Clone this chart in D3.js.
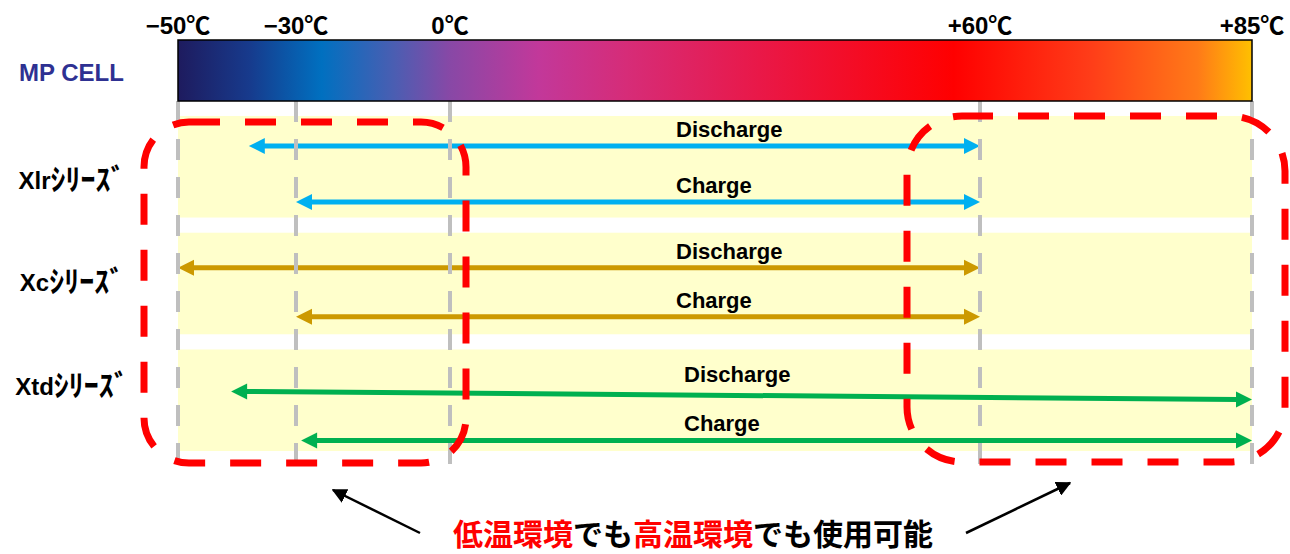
<!DOCTYPE html>
<html>
<head>
<meta charset="utf-8">
<script src="https://cdn.jsdelivr.net/npm/d3@7"></script>
<style>
  html, body { margin: 0; padding: 0; background: #ffffff; }
  svg { display: block; }
</style>
</head>
<body>
<svg id="chart" width="1290" height="554"></svg>
<script>
// ---------- data ----------
const tempTicks = [-50, -30, 0, 60, 85];
const tickLabels = ["−50℃", "−30℃", "0℃", "+60℃", "+85℃"];
const seriesCodes = ["Xlr", "Xc", "Xtd"];
const seriesSuffix = "ｼﾘｰｽﾞ";
const series = seriesCodes.map(c => c + seriesSuffix);
const modes = ["Discharge", "Charge"];
const dischargeMin = [-38, -50, -41];
const dischargeMax = [60, 60, 85];
const chargeMin = [-30, -30, -29];
const chargeMax = [60, 60, 85];
const barTitle = "MP CELL";
const lowRange = [-50, 0];
const highRange = [60, 85];
const noteParts = [
  { text: "低温環境", hi: true },
  { text: "でも", hi: false },
  { text: "高温環境", hi: true },
  { text: "でも使用可能", hi: false }
];
// gradient of the temperature bar
const gradTemps  = [-50, -38, -25, -11, 0, 10, 20, 35, 57, 70, 80, 85];
const gradColors = ["#1e1b5e", "#173a8c", "#0070c0", "#4a5eb2", "#8848a6", "#c2389a",
                    "#d62c78", "#e91848", "#ff0000", "#ff3c18", "#ff7a18", "#ffc000"];

// ---------- styles / layout ----------
const seriesColors = ["#00b0f0", "#cc9900", "#00b050"];
const laneOffsets = [[30, 86], [35, 84], [42, 91]];   // y offset of Discharge/Charge arrows inside a band
const laneTilt = [[0, 0], [0, 0], [8, 0]];
const svg = d3.select("#chart");

const x = d3.scaleLinear().domain(tempTicks).range([178, 296, 450, 980, 1252]);
const y = d3.scaleBand().domain(series).range([116, 451]).paddingInner(0.13);

const bar = { top: 40, bottom: 101 };

// ---------- gradient ----------
const defs = svg.append("defs");
const grad = defs.append("linearGradient").attr("id", "tempGrad")
  .attr("x1", "0%").attr("x2", "100%").attr("y1", "0%").attr("y2", "0%");
const x0 = x(tempTicks[0]), x1 = x(tempTicks[tempTicks.length - 1]);
gradTemps.forEach((t, i) => {
  grad.append("stop").attr("offset", ((x(t) - x0) / (x1 - x0) * 100) + "%")
    .attr("stop-color", gradColors[i]);
});

// ---------- yellow bands ----------
svg.append("g").selectAll("rect").data(series).join("rect")
  .attr("x", x0).attr("width", x1 - x0)
  .attr("y", d => y(d)).attr("height", y.bandwidth())
  .attr("fill", "#ffffcc");

// ---------- arrows ----------
const arrows = [];
series.forEach((s, i) => {
  arrows.push({ s, i, mode: modes[0], lo: dischargeMin[i], hi: dischargeMax[i],
    y1: y(s) + laneOffsets[i][0], y2: y(s) + laneOffsets[i][0] + laneTilt[i][0] });
  arrows.push({ s, i, mode: modes[1], lo: chargeMin[i], hi: chargeMax[i],
    y1: y(s) + laneOffsets[i][1], y2: y(s) + laneOffsets[i][1] + laneTilt[i][1] });
});
const headL = 16, headW = 8;
const ag = svg.append("g");
arrows.forEach(a => {
  const xa = x(a.lo), xb = x(a.hi);
  const col = seriesColors[a.i];
  ag.append("line")
    .attr("x1", xa + headL - 2).attr("y1", a.y1)
    .attr("x2", xb - headL + 2).attr("y2", a.y2)
    .attr("stroke", col).attr("stroke-width", 5);
  ag.append("path")
    .attr("d", `M${xa},${a.y1} L${xa + headL},${a.y1 - headW} L${xa + headL},${a.y1 + headW} Z`)
    .attr("fill", col);
  ag.append("path")
    .attr("d", `M${xb},${a.y2} L${xb - headL},${a.y2 - headW} L${xb - headL},${a.y2 + headW} Z`)
    .attr("fill", col);
});

// ---------- gray dashed verticals ----------
svg.append("g").selectAll("line").data(tempTicks).join("line")
  .attr("x1", d => x(d)).attr("x2", d => x(d))
  .attr("y1", bar.bottom).attr("y2", 465)
  .attr("stroke", "#bfbfbf").attr("stroke-width", 4)
  .attr("stroke-dasharray", "21,17");

// ---------- temperature bar ----------
svg.append("rect")
  .attr("x", x0).attr("y", bar.top).attr("width", x1 - x0).attr("height", bar.bottom - bar.top)
  .attr("fill", "url(#tempGrad)").attr("stroke", "#000").attr("stroke-width", 1.5);

svg.append("g").selectAll("text").data(tempTicks).join("text")
  .attr("x", d => x(d)).attr("y", 34)
  .attr("text-anchor", "middle")
  .attr("font-family", "'Liberation Sans', 'Noto Sans CJK JP', sans-serif")
  .attr("font-weight", "bold").attr("font-size", 24).attr("fill", "#000")
  .text((d, i) => tickLabels[i]);

svg.append("text")
  .attr("x", 19).attr("y", 81)
  .attr("font-family", "'Liberation Sans', sans-serif")
  .attr("font-weight", "bold").attr("font-size", 24).attr("fill", "#2e3192")
  .text(barTitle);

// ---------- red dashed highlight boxes ----------
const boxes = [
  { r: lowRange, left: -34, right: 16, top: 122, bottom: 463, rx: 45 },
  { r: highRange, left: -73, right: 33, top: 116, bottom: 462, rx: 55 }
];
svg.append("g").selectAll("rect").data(boxes).join("rect")
  .attr("x", d => x(d.r[0]) + d.left)
  .attr("width", d => x(d.r[1]) + d.right - (x(d.r[0]) + d.left))
  .attr("y", d => d.top).attr("height", d => d.bottom - d.top)
  .attr("rx", d => d.rx).attr("ry", d => d.rx)
  .attr("fill", "none").attr("stroke", "#ff0000").attr("stroke-width", 7)
  .attr("stroke-dasharray", "31,25").attr("stroke-dashoffset", 0);

// ---------- arrow labels ----------
svg.append("g").selectAll("text").data(arrows).join("text")
  .attr("x", d => d.i === 2 ? 684 : 676)
  .attr("y", d => d.y1 - 9)
  .attr("font-family", "'Liberation Sans', sans-serif")
  .attr("font-weight", "bold").attr("font-size", 22).attr("fill", "#000")
  .text(d => d.mode);

// ---------- row labels ----------
const rowBase = [73, 58, 46];
const rowText = svg.append("g").selectAll("text").data(series).join("text")
  .attr("x", 72).attr("y", (d, i) => y(d) + rowBase[i])
  .attr("text-anchor", "middle")
  .attr("font-family", "'Liberation Sans', 'Noto Sans CJK JP', sans-serif")
  .attr("font-weight", "bold").attr("fill", "#000");
rowText.append("tspan").attr("font-size", 24).text((d, i) => seriesCodes[i]);
rowText.append("tspan")
  .attr("font-family", "'Noto Sans CJK JP', sans-serif")
  .attr("font-size", 30).attr("dy", 1).text(seriesSuffix);

// ---------- bottom note with arrows ----------
defs.append("marker").attr("id", "blackHead")
  .attr("viewBox", "0 0 10 10").attr("refX", 9).attr("refY", 5)
  .attr("markerWidth", 6).attr("markerHeight", 6).attr("orient", "auto")
  .attr("markerUnits", "strokeWidth")
  .append("path").attr("d", "M0,0 L10,5 L0,10 Z").attr("fill", "#000");

const noteArrows = [
  { from: [420, 533], to: [333, 490] },
  { from: [966, 533], to: [1070, 483] }
];
svg.append("g").selectAll("line").data(noteArrows).join("line")
  .attr("x1", d => d.from[0]).attr("y1", d => d.from[1])
  .attr("x2", d => d.to[0]).attr("y2", d => d.to[1])
  .attr("stroke", "#000").attr("stroke-width", 2.5)
  .attr("marker-end", "url(#blackHead)");

const note = svg.append("text")
  .attr("x", 693).attr("y", 545).attr("text-anchor", "middle")
  .attr("font-family", "'Noto Sans CJK JP', sans-serif")
  .attr("font-weight", "bold").attr("font-size", 30);
note.selectAll("tspan").data(noteParts).join("tspan")
  .attr("fill", d => d.hi ? "#ff0000" : "#000")
  .text(d => d.text);
</script>
</body>
</html>
